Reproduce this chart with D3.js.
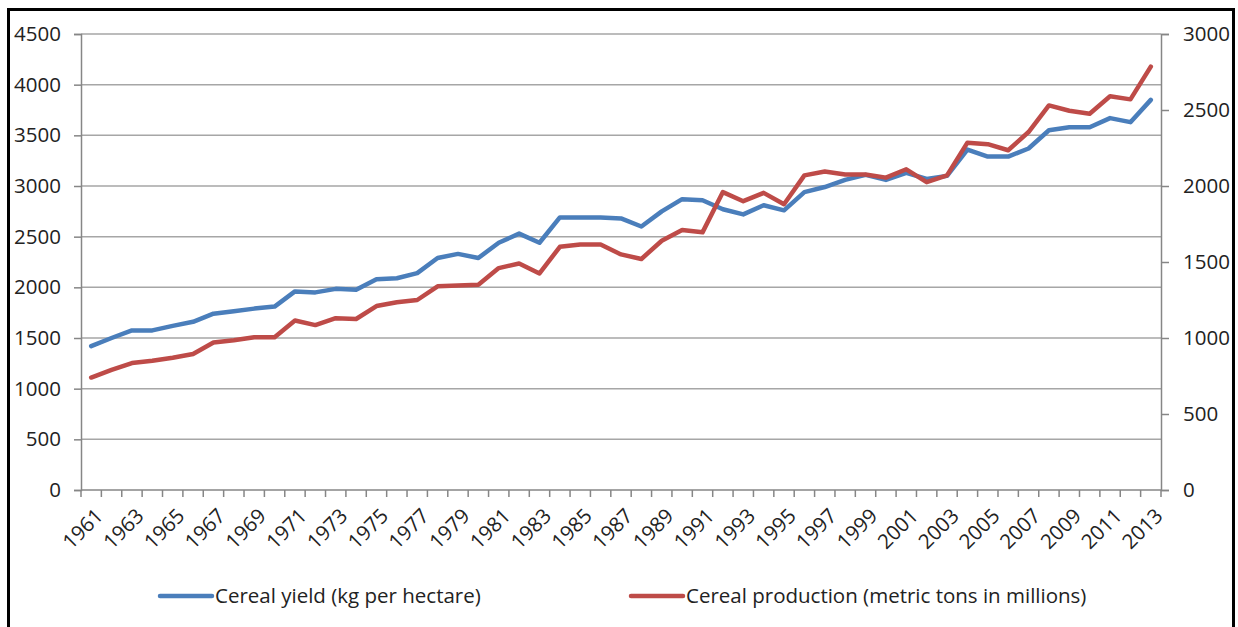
<!DOCTYPE html>
<html>
<head>
<meta charset="utf-8">
<script src="https://cdn.jsdelivr.net/npm/d3@7"></script>
<style>
	body { margin: 0; background: #fff; }
	svg text { font-family: "Open Sans", sans-serif; fill: #222; }
</style>
</head>
<body>
<svg width="1238" height="627"></svg>
<script>
'use strict';
// data
let aYears = d3.range(1961, 2014)
let aYield = [1420, 1500, 1575, 1575, 1620, 1660, 1740, 1765, 1790, 1810,
	1960, 1950, 1985, 1975, 2080, 2090, 2140, 2290, 2330, 2290,
	2440, 2530, 2440, 2690, 2690, 2690, 2680, 2600, 2750, 2870,
	2860, 2770, 2720, 2810, 2760, 2940, 2990, 3060, 3110, 3060,
	3130, 3070, 3100, 3360, 3290, 3290, 3370, 3550, 3580, 3580,
	3670, 3630, 3850]
let aProd = [740, 790, 835, 850, 870, 895, 970, 985, 1005, 1005,
	1115, 1085, 1130, 1125, 1210, 1235, 1250, 1340, 1345, 1350,
	1460, 1490, 1425, 1600, 1615, 1615, 1550, 1520, 1640, 1710,
	1695, 1960, 1900, 1955, 1880, 2070, 2095, 2075, 2075, 2055,
	2110, 2025, 2070, 2285, 2275, 2235, 2355, 2530, 2495, 2475,
	2590, 2570, 2785]
let aLeftTicks = d3.range(0, 4501, 500)
let aRightTicks = d3.range(0, 3001, 500)
let aSeries = [
	{name: "Cereal yield (kg per hectare)", color: "#4a7ebb"},
	{name: "Cereal production (metric tons in millions)", color: "#be4b48"}]

let svg = d3.select("svg")
let dL = 81, dR = 1161, dT = 34, dB = 490
let sFont = "20.5px"

// frame
svg.append("rect")
	.attr("x", 8.5).attr("y", 9.5).attr("width", 1225).attr("height", 640)
	.attr("fill", "none").attr("stroke", "#000").attr("stroke-width", 3)

let x = d3.scaleBand().domain(aYears).range([dL, dR])
let yL = d3.scaleLinear().domain([0, 4500]).range([dB, dT])
let yR = d3.scaleLinear().domain([0, 3000]).range([dB, dT])

// gridlines
svg.append("g").selectAll("line").data(aLeftTicks.slice(1)).join("line")
	.attr("x1", dL).attr("x2", dR)
	.attr("y1", d => yL(d)).attr("y2", d => yL(d))
	.attr("stroke", "#a6a6a6").attr("stroke-width", 1.5)

// left axis
let gL = svg.append("g").attr("transform", `translate(${dL},0)`)
	.call(d3.axisLeft(yL).tickValues(aLeftTicks).tickFormat(d3.format("d"))
		.tickSize(7).tickPadding(13))
gL.selectAll("text").style("font-size", sFont)

// right axis
let gR = svg.append("g").attr("transform", `translate(${dR},0)`)
	.call(d3.axisRight(yR).tickValues(aRightTicks).tickFormat(d3.format("d"))
		.tickSize(8).tickPadding(14))
gR.selectAll("text").style("font-size", sFont)

for (let g of [gL, gR]) {
	g.select(".domain").attr("stroke", "#868686").attr("stroke-width", 1.5)
	g.selectAll(".tick line").attr("stroke", "#868686").attr("stroke-width", 1.5)
}

// bottom axis: ticks between categories
let gB = svg.append("g")
gB.append("line").attr("x1", dL).attr("x2", dR).attr("y1", dB).attr("y2", dB)
	.attr("stroke", "#868686").attr("stroke-width", 1.5)
gB.selectAll("line.tk").data(aYears.concat([2014])).join("line").attr("class", "tk")
	.attr("x1", d => d === 2014 ? dR : x(d)).attr("x2", d => d === 2014 ? dR : x(d))
	.attr("y1", dB).attr("y2", dB + 7)
	.attr("stroke", "#868686").attr("stroke-width", 1.5)
gB.selectAll("text").data(aYears.filter((d, i) => i % 2 === 0)).join("text")
	.attr("transform", d => `translate(${x(d) + x.bandwidth() / 2 + 3},${dB + 17}) rotate(-45)`)
	.attr("text-anchor", "end").attr("dy", "0.7em")
	.style("font-size", sFont)
	.text(d => d)

// lines
let fLine = (scale) => d3.line()
	.x((d, i) => x(aYears[i]) + x.bandwidth() / 2)
	.y(d => scale(d))

svg.append("path").datum(aYield)
	.attr("d", fLine(yL))
	.attr("fill", "none").attr("stroke", aSeries[0].color)
	.attr("stroke-width", 4.5).attr("stroke-linejoin", "round").attr("stroke-linecap", "round")

svg.append("path").datum(aProd)
	.attr("d", fLine(yR))
	.attr("fill", "none").attr("stroke", aSeries[1].color)
	.attr("stroke-width", 4.5).attr("stroke-linejoin", "round").attr("stroke-linecap", "round")

// legend
let aLegX = [160, 631]
let gLeg = svg.append("g").selectAll("g").data(aSeries).join("g")
	.attr("transform", (d, i) => `translate(${aLegX[i]},596)`)
gLeg.append("line").attr("x1", 0).attr("x2", 52)
	.attr("stroke", d => d.color).attr("stroke-width", 4.5).attr("stroke-linecap", "round")
gLeg.append("text").attr("x", 55).attr("dy", "0.35em")
	.style("font-size", sFont)
	.text(d => d.name)
</script>
</body>
</html>
